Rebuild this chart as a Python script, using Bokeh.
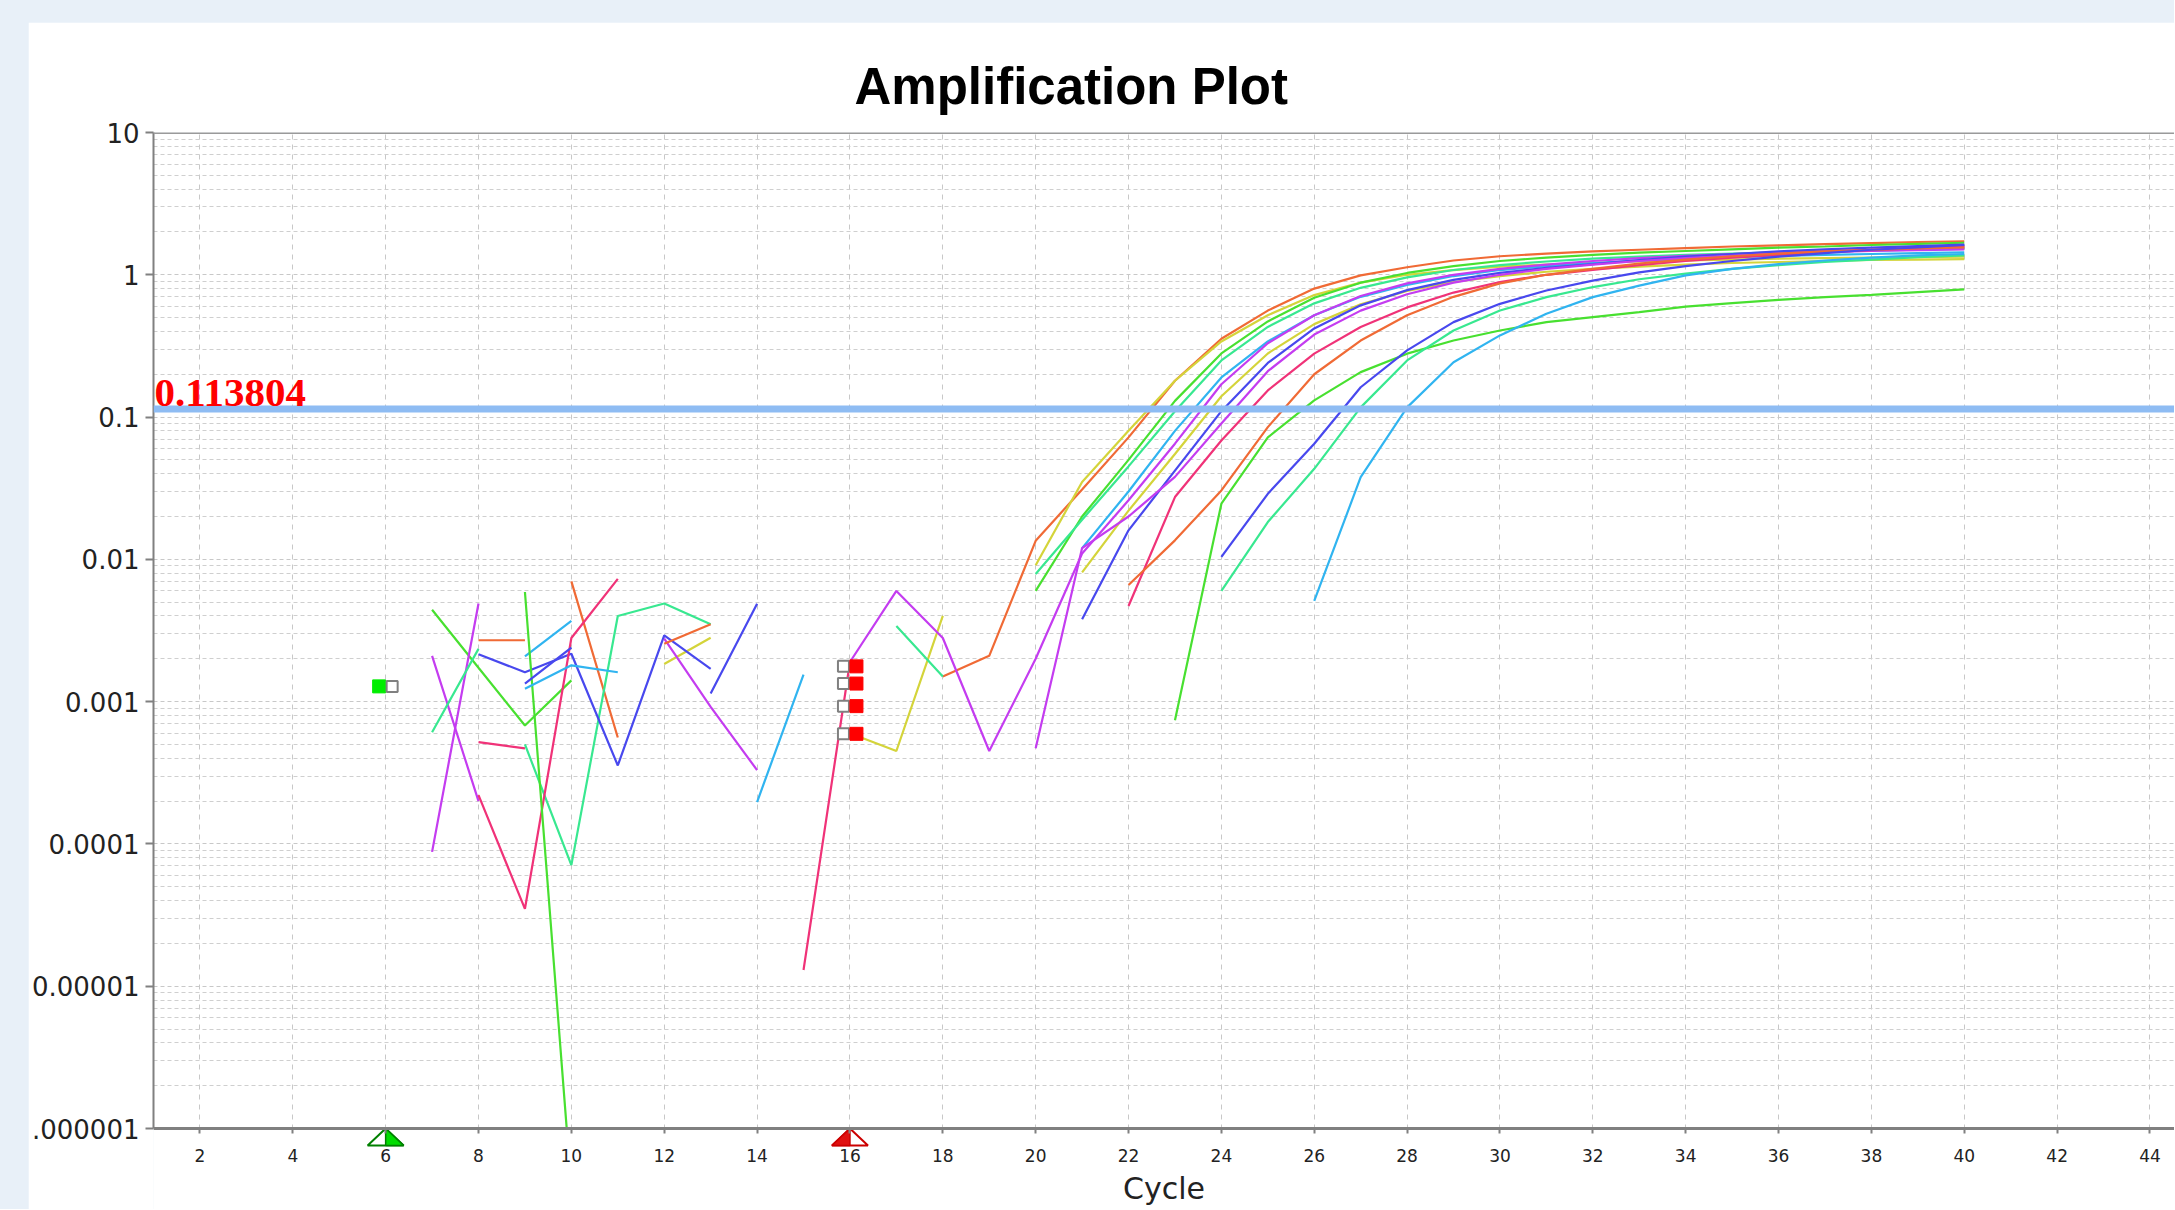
import numpy as np
from bokeh.plotting import figure
from bokeh.models import (FixedTicker, CustomJSTickFormatter, Span, Label, Spacer)
from bokeh.layouts import column, row
from bokeh.embed import file_html
from bokeh.resources import INLINE

# ---------------- data (cycles 7..40, None = not drawn / non-positive) -------------
cycles = list(range(7, 41))

orange_a = [None, None, None, 0.0070, 0.00056, None, None, None, None, None, None,
            0.0015, 0.0021, 0.0135, 0.031, 0.072, 0.18, 0.355, 0.56, 0.80, 0.99, 1.13,
            1.26, 1.35, 1.41, 1.46, 1.50, 1.54, 1.58, 1.61, 1.64, 1.67, 1.70, 1.72]
yellow_a = [None, None, None, None, None, None, None, None, None, 0.0006, 0.00045,
            0.004, None, 0.0091, 0.035, 0.08, 0.18, 0.34, 0.52, 0.72, 0.88, 1.0, 1.08,
            1.14, 1.18, 1.21, 1.24, 1.26, 1.28, 1.30, 1.31, 1.32, 1.33, 1.34]
green_a = [0.00442, 0.00173, 0.00068, 0.00141, None, None, None, None, None, None,
           None, None, None, 0.006, 0.02, 0.05, 0.13, 0.28, 0.47, 0.69, 0.88, 1.03,
           1.15, 1.25, 1.32, 1.38, 1.43, 1.47, 1.51, 1.55, 1.58, 1.62, 1.65, 1.68]
spring_a = [None, None, 0.0005, 0.000071, 0.004, 0.0049, 0.0035, None, None, None,
            None, None, None, 0.0079, 0.019, 0.045, 0.11, 0.25, 0.43, 0.63, 0.81, 0.96,
            1.08, 1.17, 1.24, 1.30, 1.34, 1.38, 1.41, 1.44, 1.46, 1.48, 1.50, 1.52]
sky_a = [None, None, 0.00208, 0.0037, None, None, None, None, None, None, None, None,
         None, None, 0.012, 0.03, 0.08, 0.19, 0.34, 0.52, 0.70, 0.85, 0.98, 1.08, 1.15,
         1.21, 1.26, 1.30, 1.33, 1.36, 1.38, 1.40, 1.42, 1.44]
purple_a = [0.000088, 0.0049, None, None, None, None, None, None, None, 0.0019, 0.006,
            0.0028, 0.00045, 0.002, 0.011, 0.026, 0.065, 0.17, 0.33, 0.52, 0.71, 0.87,
            1.0, 1.10, 1.18, 1.25, 1.31, 1.36, 1.40, 1.44, 1.47, 1.50, 1.52, 1.55]
yellow_b = [None, None, None, None, None, 0.00184, 0.00281, None, None, None, None,
            None, None, None, 0.0081, 0.022, 0.055, 0.14, 0.28, 0.45, 0.62, 0.77, 0.89,
            0.98, 1.05, 1.10, 1.14, 1.18, 1.21, 1.23, 1.25, 1.27, 1.28, 1.29]
blue_a = [None, 0.00215, 0.00161, 0.00217, 0.000356, 0.00292, 0.0017, None, None, None,
          None, None, None, None, 0.0038, 0.016, 0.042, 0.11, 0.24, 0.42, 0.61, 0.78,
          0.92, 1.03, 1.12, 1.19, 1.27, 1.34, 1.40, 1.46, 1.51, 1.55, 1.59, 1.63]
purple_b = [0.0021, 0.0002, None, None, None, 0.00277, 0.00092, 0.00033, None, None,
            None, None, None, 0.00047, 0.012, 0.02, 0.038, 0.09, 0.21, 0.38, 0.56, 0.73,
            0.88, 1.0, 1.10, 1.18, 1.25, 1.31, 1.36, 1.40, 1.44, 1.47, 1.49, 1.51]
pink_a = [None, 0.00022, 0.000035, 0.0028, 0.0073, None, None, None, 0.000013, 0.0019,
          None, None, None, None, None, 0.0047, 0.0274, 0.0685, 0.154, 0.279, 0.43,
          0.59, 0.75, 0.89, 1.0, 1.08, 1.17, 1.25, 1.32, 1.38, 1.44, 1.49, 1.54, 1.58]
orange_b = [None, 0.0027, 0.0027, None, None, 0.00255, 0.0035, None, None, None, None,
            None, None, None, None, 0.0066, 0.0136, 0.0305, 0.085, 0.20, 0.345, 0.52,
            0.70, 0.87, 1.0, 1.10, 1.20, 1.28, 1.35, 1.41, 1.46, 1.50, 1.53, 1.56]
green_b = [None, None, 0.0059, 0.00000038, None, None, None, None, None, None, None,
           None, None, None, None, None, 0.00074, 0.0246, 0.072, 0.131, 0.207, 0.279,
           0.345, 0.406, 0.465, 0.504, 0.546, 0.598, 0.632, 0.667, 0.697, 0.723, 0.755,
           0.789]
blue_b = [None, None, 0.00134, 0.0024, None, None, 0.00114, 0.00488, None, None, None,
          None, None, None, None, None, None, 0.0104, 0.0289, 0.065, 0.162, 0.294,
          0.465, 0.625, 0.776, 0.91, 1.04, 1.15, 1.25, 1.34, 1.42, 1.50, 1.56, 1.62]
spring_b = [0.00061, 0.00235, None, None, None, None, None, None, None, None, 0.0034,
            0.0015, None, None, None, None, None, 0.006, 0.0183, 0.0433, 0.117, 0.25,
            0.406, 0.561, 0.697, 0.82, 0.93, 1.02, 1.10, 1.17, 1.23, 1.28, 1.33, 1.37]
sky_b = [None, None, 0.00123, 0.0018, 0.00161, None, None, 0.000197, 0.00155, None,
         None, None, None, None, None, None, None, None, None, 0.0051, 0.0378, 0.117,
         0.243, 0.375, 0.532, 0.697, 0.84, 0.99, 1.10, 1.19, 1.26, 1.32, 1.37, 1.40]
pink_noise = [None, 0.00052, 0.00047] + [None] * 31

curves = [
    (orange_a, "#f06a35"), (yellow_a, "#d4d43a"), (green_a, "#48e030"),
    (spring_a, "#38e890"), (sky_a, "#30b4f0"), (purple_a, "#c43cf0"),
    (yellow_b, "#d4d43a"), (blue_a, "#4848ee"), (purple_b, "#c43cf0"),
    (pink_a, "#f03278"), (orange_b, "#f06a35"), (green_b, "#48e030"),
    (blue_b, "#4848ee"), (spring_b, "#38e890"), (sky_b, "#30b4f0"),
    (pink_noise, "#f03278"),
]

x_tick_values = list(range(2, 46, 2))
y_tick_values = [1e-6, 1e-5, 1e-4, 1e-3, 1e-2, 1e-1, 1, 10]
y_tick_labels = [".000001", "0.00001", "0.0001", "0.001", "0.01", "0.1", "1", "10"]
threshold = 0.113804
threshold_label = "0.113804"
baseline_start = 6
baseline_end = 16
start_marker_y = [0.00128]
end_marker_y = [0.00177, 0.00134, 0.00093, 0.000594]

# ---------------- geometry ----------------
FIG_W, FIG_H = 2146, 1187
B_LEFT, B_TOP, B_RIGHT, B_BOTTOM = 125, 110, 0, 0
AXIS_FRAME_H = 996          # height of the 1e-6 .. 10 band
EXT = FIG_H - B_TOP - AXIS_FRAME_H   # frame part below the x axis (ticks, labels)
FRAME_W = FIG_W - B_LEFT - B_RIGHT
X_START = 1
PX_PER_CYCLE = 46.43
X_END = X_START + FRAME_W / PX_PER_CYCLE
Y_AXIS, Y_END = 1e-6, 10
PX_PER_DECADE = AXIS_FRAME_H / 7.0
Y_LOW = Y_AXIS * 10 ** (-EXT / PX_PER_DECADE)

p = figure(width=FIG_W, height=FIG_H, x_range=(X_START, X_END),
           y_range=(Y_LOW, Y_END), y_axis_type="log",
           output_backend="svg", toolbar_location=None,
           min_border_left=B_LEFT, min_border_right=B_RIGHT,
           min_border_top=B_TOP, min_border_bottom=B_BOTTOM,
           title="Amplification Plot")
p.background_fill_color = "white"
p.border_fill_color = "white"
p.outline_line_color = None

p.title.text_font = "Liberation Sans"
p.title.text_font_size = "51px"
p.title.text_font_style = "bold"
p.title.text_color = "black"
p.title.align = "left"
p.title.offset = 701
p.title.standoff = 35

# axes
xt = FixedTicker(ticks=x_tick_values)
p.xaxis.ticker = xt
p.xgrid.ticker = xt
p.xaxis.fixed_location = Y_AXIS
minor = [k * 10.0 ** d for d in range(-6, 1) for k in range(2, 10)]
yt = FixedTicker(ticks=y_tick_values, minor_ticks=minor)
p.yaxis.ticker = yt
p.ygrid.ticker = yt
p.yaxis.bounds = (Y_AXIS, Y_END)
p.yaxis.formatter = CustomJSTickFormatter(
    args=dict(tvals=y_tick_values, tlabels=y_tick_labels),
    code="""
    for (let i = 0; i < tvals.length; i++) {
        if (Math.abs(Math.log10(tvals[i]) - Math.log10(tick)) < 1e-6) return tlabels[i];
    }
    return "";
    """)

for ax in (p.xaxis[0], p.yaxis[0]):
    ax.axis_line_color = "#808080"
    ax.axis_line_width = 2
    ax.major_tick_line_color = "#808080"
    ax.major_tick_line_width = 2
    ax.major_tick_in = 0
    ax.minor_tick_line_color = None
    ax.major_label_text_font = "DejaVu Sans"
    ax.major_label_text_color = "#222222"

p.xaxis.axis_line_width = 3
p.yaxis.major_tick_out = 8
p.yaxis.major_label_text_font_size = "26px"
p.yaxis.major_label_standoff = 6
p.xaxis.major_tick_out = 5
p.xaxis.major_label_text_font_size = "17px"
p.xaxis.major_label_standoff = 15
p.xaxis.axis_label = "Cycle"
p.xaxis.axis_label_text_font = "DejaVu Sans"
p.xaxis.axis_label_text_font_size = "30px"
p.xaxis.axis_label_text_font_style = "normal"
p.xaxis.axis_label_text_color = "#222222"
p.xaxis.axis_label_standoff = 6

p.xgrid.grid_line_color = "#c8c8c8"
p.xgrid.grid_line_dash = "5 5"
p.xgrid.grid_line_width = 1
p.ygrid.grid_line_color = "#c8c8c8"
p.ygrid.grid_line_dash = "4 3"
p.ygrid.grid_line_width = 1
p.ygrid.minor_grid_line_color = "#cfcfcf"
p.ygrid.minor_grid_line_dash = "4 3"
p.ygrid.minor_grid_line_width = 1

# top border of the plot area
p.add_layout(Span(location=Y_END, dimension="width", line_color="#9a9a9a",
                  line_width=3))

# curves
for vals, col in curves:
    p.line(x=cycles, y=np.array(vals, dtype=float), line_color=col, line_width=2.2)

# white strip below the x axis (hides grid lines and curve parts there)
p.quad(left=[X_START], right=[X_END], bottom=[Y_LOW], top=[Y_AXIS],
       fill_color="white", line_color=None)

# baseline markers (squares)
SQ = 13
half = SQ / 2.0 / PX_PER_CYCLE
p.rect(x=[baseline_start - half] * len(start_marker_y), y=start_marker_y,
       width=SQ, height=SQ, width_units="screen", height_units="screen",
       fill_color="#00ee00", line_color="#00ee00")
p.rect(x=[baseline_start + half] * len(start_marker_y), y=start_marker_y,
       width=SQ - 2, height=SQ - 2, width_units="screen", height_units="screen",
       fill_color="white", line_color="#808080", line_width=2)
p.rect(x=[baseline_end - half] * len(end_marker_y), y=end_marker_y,
       width=SQ - 2, height=SQ - 2, width_units="screen", height_units="screen",
       fill_color="white", line_color="#808080", line_width=2)
p.rect(x=[baseline_end + half] * len(end_marker_y), y=end_marker_y,
       width=SQ, height=SQ, width_units="screen", height_units="screen",
       fill_color="#ff0000", line_color="#ff0000")

# baseline range triangles below the axis
TRI_H, TRI_HW = 17, 18
dx = TRI_HW / PX_PER_CYCLE
y_base = Y_AXIS * 10 ** (-TRI_H / PX_PER_DECADE)
s, e = baseline_start, baseline_end
p.patches(xs=[[s - dx, s + dx, s], [e - dx, e + dx, e]],
          ys=[[y_base, y_base, Y_AXIS], [y_base, y_base, Y_AXIS]],
          fill_color="white", line_color=["#008000", "#cc0000"], line_width=2)
p.patches(xs=[[s, s + dx, s], [e - dx, e, e]],
          ys=[[y_base, y_base, Y_AXIS], [y_base, y_base, Y_AXIS]],
          fill_color=["#00dd00", "#e01010"], line_color=["#008000", "#cc0000"],
          line_width=1.5)

# threshold
p.add_layout(Span(location=threshold, dimension="width", line_color="#8ebcf3",
                  line_width=7))
p.add_layout(Label(x=X_START, y=threshold, text=threshold_label, x_offset=1,
                   y_offset=16, text_color="#ff0000", text_font="Liberation Serif",
                   text_font_size="41px", text_font_style="bold",
                   text_baseline="alphabetic"))

page = column(Spacer(height=22),
              row(Spacer(width=28), p),
              styles={"background-color": "#e8f0f8"})

open("out.html", "w").write(file_html(page, INLINE))
